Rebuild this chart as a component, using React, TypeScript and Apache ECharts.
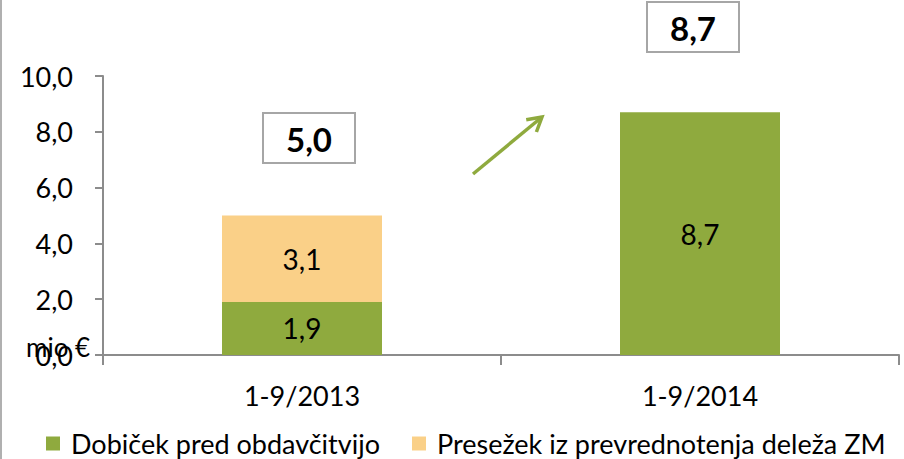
import React, { useEffect, useRef } from "react";
import * as echarts from "echarts";

const categories = ["1-9/2013", "1-9/2014"];
const profitBeforeTax = [1.9, 8.7];
const revaluationSurplus: (number | string)[] = [3.1, "-"];
const totals = ["5,0", "8,7"];
const yTicks = { min: 0, max: 10, interval: 2 };
const seriesNames = ["Dobiček pred obdavčitvijo", "Presežek iz prevrednotenja deleža ZM"];
const unitLabel = "mio €";

const FONT = "Lato";
const GREEN = "#8FAA3E";
const ORANGE = "#FAD088";
const AXIS = "#8C8C8C";

const fmt = (v: number) => v.toFixed(1).replace(".", ",");

function arrowHead(x1: number, y1: number, x2: number, y2: number, len: number) {
  const a = Math.atan2(y2 - y1, x2 - x1);
  const s = Math.PI / 6;
  return [
    [x2 - len * Math.cos(a - s), y2 - len * Math.sin(a - s)],
    [x2, y2],
    [x2 - len * Math.cos(a + s), y2 - len * Math.sin(a + s)],
  ];
}

function totalBox(cx: number, top: number, text: string) {
  return {
    type: "group",
    x: cx - 46,
    y: top,
    children: [
      {
        type: "rect",
        shape: { x: 0, y: 0, width: 92, height: 50 },
        style: { fill: "#fff", stroke: "#A6A6A6", lineWidth: 2 },
      },
      {
        type: "text",
        x: 46,
        y: 26,
        style: {
          text,
          fontFamily: FONT,
          fontSize: 33,
          fontWeight: "bold",
          fill: "#000",
          align: "center",
          verticalAlign: "middle",
        },
      },
    ],
  };
}

export default function App() {
  const ref = useRef<HTMLDivElement>(null);
  useEffect(() => {
    document.body.style.margin = "0";
    const chart = echarts.init(ref.current!, null, { renderer: "svg" });
    const a1 = [473, 174];
    const a2 = [542, 117];
    const dataLabel = {
      show: true,
      position: "inside",
      fontSize: 28,
      color: "#000",
      fontFamily: FONT,
      formatter: (p: any) => fmt(p.value),
    };
    chart.setOption({
      animation: false,
      backgroundColor: "#fff",
      textStyle: { fontFamily: FONT },
      grid: { left: 103, right: 5, top: 76, bottom: 104 },
      legend: {
        left: 41,
        top: 425,
        padding: [5, 0, 5, 5],
        itemWidth: 14,
        itemHeight: 14,
        itemGap: 32,
        icon: "rect",
        textStyle: { fontFamily: FONT, fontSize: 27, color: "#000", padding: [0, 0, 0, 6] },
        data: seriesNames,
      },
      xAxis: {
        type: "category",
        data: categories,
        axisLine: { lineStyle: { color: AXIS, width: 2 } },
        axisTick: { show: true, length: 10, lineStyle: { color: AXIS, width: 2 } },
        axisLabel: { fontSize: 27, color: "#000", margin: 27, fontFamily: FONT },
      },
      yAxis: {
        type: "value",
        min: yTicks.min,
        max: yTicks.max,
        interval: yTicks.interval,
        splitLine: { show: false },
        axisLine: { show: true, lineStyle: { color: AXIS, width: 2 } },
        axisTick: { show: true, length: 8, lineStyle: { color: AXIS, width: 2 } },
        axisLabel: { fontSize: 27, color: "#000", margin: 30, formatter: fmt, fontFamily: FONT },
      },
      series: [
        {
          name: seriesNames[0],
          type: "bar",
          stack: "s",
          barWidth: 160,
          data: profitBeforeTax,
          itemStyle: { color: GREEN },
          label: dataLabel,
        },
        {
          name: seriesNames[1],
          type: "bar",
          stack: "s",
          barWidth: 160,
          data: revaluationSurplus,
          itemStyle: { color: ORANGE },
          label: dataLabel,
        },
      ],
      graphic: [
        { type: "line", shape: { x1: 1, y1: 0, x2: 1, y2: 459 }, style: { stroke: "#B0B0B0", lineWidth: 2 } },
        {
          type: "text",
          x: 26,
          y: 347,
          style: { text: unitLabel, fontFamily: FONT, fontSize: 26, fill: "#000", verticalAlign: "middle" },
        },
        totalBox(309, 113, totals[0]),
        totalBox(693, 2, totals[1]),
        { type: "line", shape: { x1: a1[0], y1: a1[1], x2: a2[0], y2: a2[1] }, style: { stroke: GREEN, lineWidth: 3.5 } },
        { type: "polyline", shape: { points: arrowHead(a1[0], a1[1], a2[0], a2[1], 16) }, style: { stroke: GREEN, lineWidth: 3.5, fill: "none" } },
      ],
    });
    return () => chart.dispose();
  }, []);
  return <div ref={ref} style={{ width: 904, height: 459 }} />;
}
